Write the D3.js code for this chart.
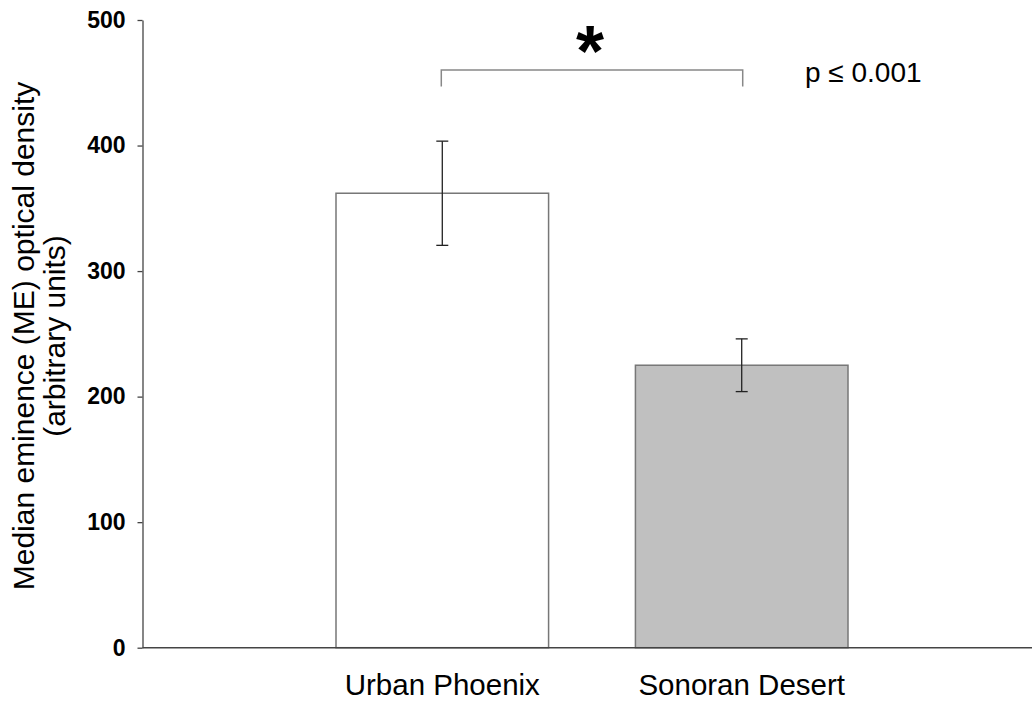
<!DOCTYPE html>
<html>
<head>
<meta charset="utf-8">
<script src="https://cdn.jsdelivr.net/npm/d3@7"></script>
<style>
  body { margin: 0; background: #fff; }
  svg { font-family: "Liberation Sans", Arial, sans-serif; }
</style>
</head>
<body>
<div id="chart"></div>
<script>
// Median eminence optical density chart

// data
const categories = ['Urban Phoenix', 'Sonoran Desert'];
const means = [362, 225];
const errors = [41.5, 21];
const barColors = ['#ffffff', '#c0c0c0'];
const yTicks = [0, 100, 200, 300, 400, 500];

const width = 1032;
const height = 704;

const svg = d3.select('#chart')
  .append('svg')
  .attr('width', width)
  .attr('height', height);

const y = d3.scaleLinear()
  .domain([0, 500])
  .range([647.7, 20]);

const x = d3.scaleBand()
  .domain(categories)
  .range([336, 848])
  .paddingInner(0.29)
  .paddingOuter(0);

// y axis
const yAxis = svg.append('g')
  .attr('transform', 'translate(142.5,0)')
  .call(d3.axisLeft(y).tickValues(yTicks).tickSize(5).tickSizeOuter(0).tickPadding(12));

yAxis.select('.domain').attr('stroke', '#444').attr('stroke-width', 1.3);
yAxis.selectAll('.tick line').attr('stroke', '#444').attr('stroke-width', 1.3);
yAxis.selectAll('.tick text')
  .attr('font-size', 23)
  .attr('font-weight', 'bold')
  .attr('fill', '#000')
  .attr('font-family', '"Liberation Sans", Arial, sans-serif');

// bars
svg.selectAll('.bar')
  .data(categories)
  .enter()
  .append('rect')
  .attr('class', 'bar')
  .attr('x', d => x(d))
  .attr('width', x.bandwidth())
  .attr('y', (d, i) => y(means[i]))
  .attr('height', (d, i) => y(0) - y(means[i]))
  .attr('fill', (d, i) => barColors[i])
  .attr('stroke', '#777')
  .attr('stroke-width', 1.5);

// x axis line
svg.append('line')
  .attr('x1', 142.5).attr('x2', width)
  .attr('y1', y(0)).attr('y2', y(0))
  .attr('stroke', '#444')
  .attr('stroke-width', 1.5);

// error bars
const eb = svg.selectAll('.err')
  .data(categories)
  .enter()
  .append('g')
  .attr('class', 'err')
  .attr('stroke', '#222')
  .attr('stroke-width', 1.3);

eb.append('line')
  .attr('x1', d => x(d) + x.bandwidth() / 2)
  .attr('x2', d => x(d) + x.bandwidth() / 2)
  .attr('y1', (d, i) => y(means[i] + errors[i]))
  .attr('y2', (d, i) => y(means[i] - errors[i]));

[1, -1].forEach(s => {
  eb.append('line')
    .attr('x1', d => x(d) + x.bandwidth() / 2 - 6)
    .attr('x2', d => x(d) + x.bandwidth() / 2 + 6)
    .attr('y1', (d, i) => y(means[i] + s * errors[i]))
    .attr('y2', (d, i) => y(means[i] + s * errors[i]));
});

// category labels
svg.selectAll('.cat')
  .data(categories)
  .enter()
  .append('text')
  .attr('x', d => x(d) + x.bandwidth() / 2)
  .attr('y', 695)
  .attr('text-anchor', 'middle')
  .attr('font-size', 29.5)
  .attr('fill', '#000')
  .text(d => d);

// y label
const yl = svg.append('text')
  .attr('transform', 'translate(0,336) rotate(-90)')
  .attr('text-anchor', 'middle')
  .attr('font-size', 30)
  .attr('fill', '#000');
yl.append('tspan').attr('x', 0).attr('y', 34).text('Median eminence (ME) optical density');
yl.append('tspan').attr('x', 0).attr('y', 65).text('(arbitrary units)');

// significance bracket
const cx0 = x(categories[0]) + x.bandwidth() / 2;
const cx1 = x(categories[1]) + x.bandwidth() / 2;
svg.append('path')
  .attr('d', `M${cx0 - 1},86.5 V70 H${cx1 + 1} V86.5`)
  .attr('fill', 'none')
  .attr('stroke', '#888')
  .attr('stroke-width', 1.5);

svg.append('text')
  .attr('x', (cx0 + cx1) / 2 - 2)
  .attr('y', 76)
  .attr('text-anchor', 'middle')
  .attr('font-size', 72)
  .attr('font-weight', 'bold')
  .attr('fill', '#000')
  .text('*');

svg.append('text')
  .attr('x', 805)
  .attr('y', 82)
  .attr('font-size', 28)
  .attr('fill', '#000')
  .text('p ≤ 0.001');
</script>
</body>
</html>
